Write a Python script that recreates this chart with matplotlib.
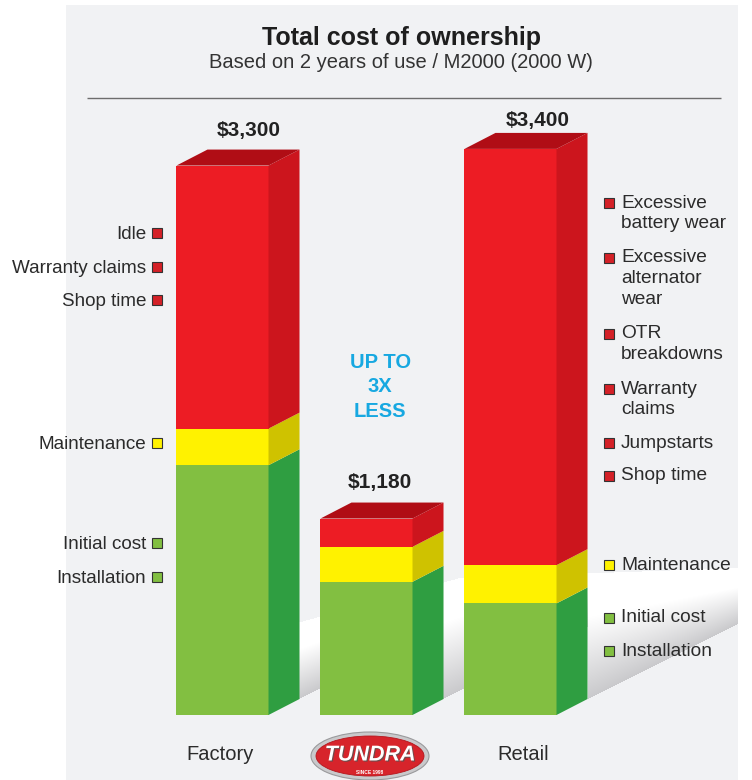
import numpy as np
import matplotlib
matplotlib.use("Agg")
import matplotlib.pyplot as plt
from matplotlib.patches import Polygon, Rectangle, Ellipse
import matplotlib.patheffects as pe

plt.rcParams['font.family'] = ['Liberation Sans', 'DejaVu Sans']

# ---------------- data ----------------
categories = ['Factory', 'TUNDRA', 'Retail']
green_vals = [1500, 800, 670]      # Initial cost + Installation
yellow_vals = [220, 210, 230]      # Maintenance
red_vals = [1580, 170, 2500]       # other costs
left_labels = ['Idle', 'Warranty claims', 'Shop time', 'Maintenance', 'Initial cost', 'Installation']
left_kinds = ['red', 'red', 'red', 'yellow', 'green', 'green']
right_labels = ['Excessive\nbattery wear', 'Excessive\nalternator\nwear', 'OTR\nbreakdowns',
                'Warranty\nclaims', 'Jumpstarts', 'Shop time', 'Maintenance', 'Initial cost', 'Installation']
right_kinds = ['red', 'red', 'red', 'red', 'red', 'red', 'yellow', 'green', 'green']
title = 'Total cost of ownership'
subtitle = 'Based on 2 years of use / M2000 (2000 W)'
callout = 'UP TO\n3X\nLESS'

# ---------------- styles ----------------
front = {'green': '#82bf41', 'yellow': '#fff200', 'red': '#ed1c24'}
side = {'green': '#2f9e41', 'yellow': '#cfc200', 'red': '#cc151d'}
top_red = '#b00d15'
marker = {'green': '#82bf41', 'yellow': '#fff200', 'red': '#d42127'}
txt = '#2b2b2b'
W, H = 752, 780

fig = plt.figure(figsize=(W / 100, H / 100), dpi=100, facecolor='white')

# decoration layer in pixel coordinates
deco = fig.add_axes([0, 0, 1, 1], zorder=0)
deco.set_xlim(0, W)
deco.set_ylim(H, 0)
deco.axis('off')
deco.add_patch(Rectangle((66, 5), 672, 775, facecolor='#f1f2f4', edgecolor='none'))

# floor swoosh (white band fading to gray shadow)
xs = np.arange(W) + 0.5
ys = np.arange(H) + 0.5
ytop = np.interp(xs, [290, 460, 740], [625, 578, 568])
xstart = np.where(xs < 443, 299, np.where(xs < 588, 443, 588))
ybot = 699 - 0.5 * (xs - xstart)
Y = ys[:, None]
t = (Y - ytop[None, :]) / (ybot - ytop)[None, :]
inside = (t >= 0) & (t <= 1) & (xs[None, :] >= 299) & (xs[None, :] <= 738)
f = np.clip((t - 0.35) / 0.65, 0, 1)
white = np.array([1.0, 1.0, 1.0])
gray = np.array([0.79, 0.79, 0.80])
img = np.zeros((H, W, 4))
img[..., :3] = white * (1 - f[..., None]) + gray * f[..., None]
img[..., 3] = inside.astype(float)
deco.imshow(img, extent=(0, W, H, 0), interpolation='bilinear', zorder=1)

# title block
deco.text(401, 38, title, ha='center', va='center', fontsize=18, fontweight='bold', color='#1e1e1e')
deco.text(401, 62, subtitle, ha='center', va='center', fontsize=14.5, color='#333333')
deco.plot([87, 721], [98, 98], color='#6d6d6d', lw=1.0, solid_capstyle='butt')

# side labels
left_y = [232, 266, 299, 442, 542, 576]
for lab, kind, y in zip(left_labels, left_kinds, left_y):
    deco.text(146, y + 2.5, lab, ha='right', va='center', fontsize=13.6, color=txt)
    deco.add_patch(Rectangle((152, y - 4.5), 10, 10, facecolor=marker[kind], edgecolor='#333333', lw=0.8))
right_y = [202, 257, 333, 388, 442, 475, 564, 617, 650]
for lab, kind, y in zip(right_labels, right_kinds, right_y):
    deco.text(621, y - 7.5, lab, ha='left', va='top', fontsize=13.8, color=txt, linespacing=1.27)
    deco.add_patch(Rectangle((604, y - 4.5), 10, 10, facecolor=marker[kind], edgecolor='#333333', lw=0.8))

# category labels and logo
deco.text(220, 754, categories[0], ha='center', va='center', fontsize=14.5, color=txt)
deco.text(523, 754, categories[2], ha='center', va='center', fontsize=14.5, color=txt)
deco.add_patch(Ellipse((370, 756), 118, 48, facecolor='#c9c9cb', edgecolor='#9a9a9c', lw=0.8))
deco.add_patch(Ellipse((370, 756), 108, 40, facecolor='#d7242b', edgecolor='#b5161d', lw=0.6))
deco.text(370, 755, categories[1], ha='center', va='center', fontsize=15.5, fontweight='bold',
          fontstyle='italic', color='white',
          path_effects=[pe.withSimplePatchShadow(offset=(0.8, -0.8), shadow_rgbFace='#555555', alpha=0.8)])
deco.text(370, 772, 'SINCE 1998', ha='center', va='center', fontsize=3.5, fontweight='bold', color='white')

# ---------------- bars ----------------
ax = fig.add_axes([78.5 / W, 65 / H, 576 / W, 666 / H], zorder=1)
ax.set_facecolor('none')
ax.set_xlim(-1, 3)
ax.set_ylim(0, 4000)
ax.axis('off')

xpos = np.arange(len(categories))
bw = 0.639
dx = 31 / 144
dy = 96
segments = [('green', np.array(green_vals)), ('yellow', np.array(yellow_vals)), ('red', np.array(red_vals))]
bottom = np.zeros(len(categories))
for kind, vals in segments:
    ax.bar(xpos, vals, bw, bottom=bottom, color=front[kind], linewidth=0, zorder=2)
    for i in range(len(categories)):
        xr = xpos[i] + bw / 2
        b, tt = bottom[i], bottom[i] + vals[i]
        ax.add_patch(Polygon([(xr, b), (xr + dx, b + dy), (xr + dx, tt + dy), (xr, tt)],
                             closed=True, facecolor=side[kind], edgecolor='none', zorder=2))
    bottom = bottom + vals

totals = bottom
label_dx = [0.18, 0.09, 0.19]
label_up = [115, 120, 75]
for i, tot in enumerate(totals):
    xl, xr = xpos[i] - bw / 2, xpos[i] + bw / 2
    ax.add_patch(Polygon([(xl, tot), (xl + dx, tot + dy), (xr + dx, tot + dy), (xr, tot)],
                         closed=True, facecolor=top_red, edgecolor='none', zorder=2))
    ax.text(xpos[i] + label_dx[i], tot + dy + label_up[i], f'${int(tot):,}', ha='center', va='center',
            fontsize=15, fontweight='bold', color='#222222', zorder=3)

ax.text(xpos[1] + 0.095, 1970, callout, ha='center', va='center', fontsize=14.5, fontweight='bold',
        color='#17a8e1', linespacing=1.35, zorder=3)

fig.savefig('out.png', dpi=100, facecolor='white')
